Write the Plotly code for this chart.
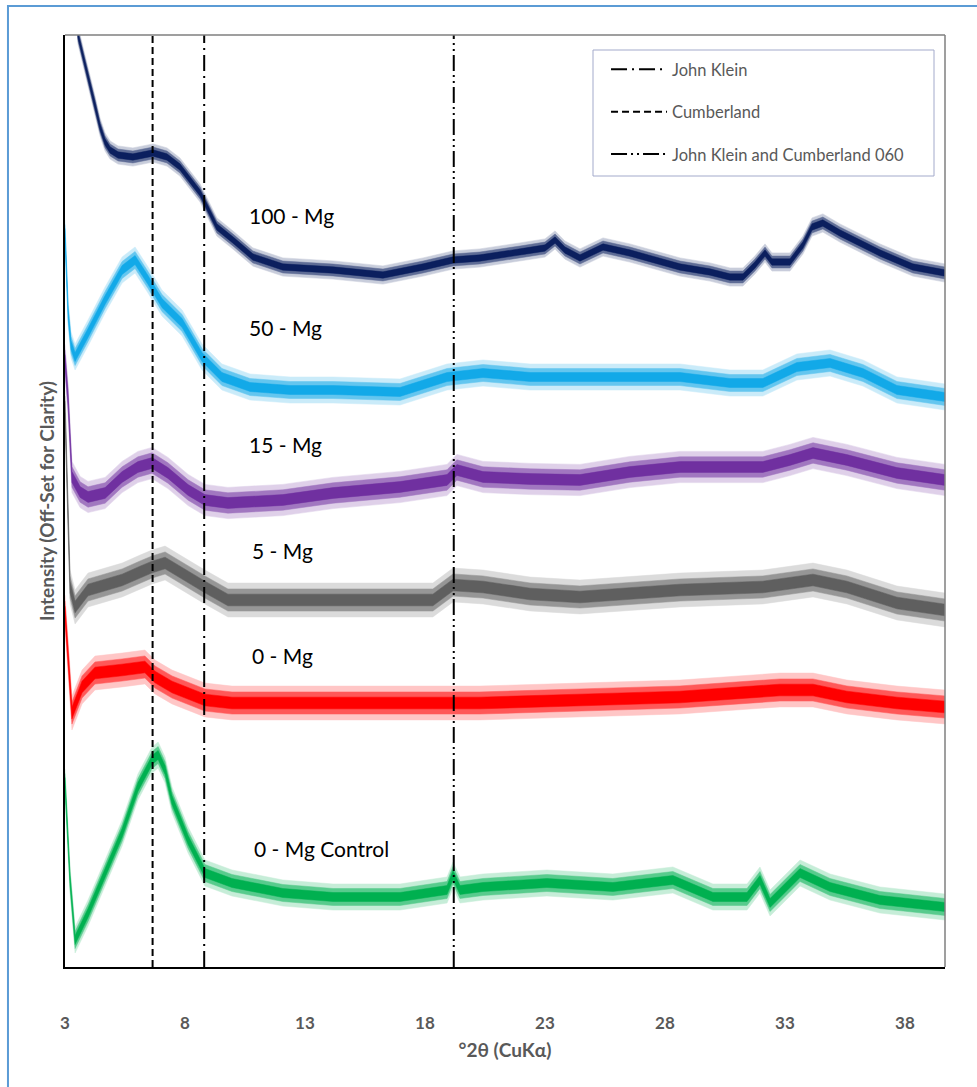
import plotly.graph_objects as go

# ---------------- data ----------------
# 2theta (deg) / offset intensity (arbitrary units) of each pattern's centre line
tt_100 = [3.0, 3.54, 3.79, 4.04, 4.25, 4.46, 4.67, 4.88, 5.21, 5.83, 6.67, 7.25, 7.79, 8.63, 9.33,
          10.0, 10.83, 12.08, 14.17, 16.25, 17.92, 19.17, 20.29, 21.96, 23.0, 23.42, 23.83, 24.46,
          25.42, 26.54, 28.63, 29.88, 30.71, 31.25, 31.75, 32.17, 32.46, 33.21, 33.75, 34.13,
          34.58, 35.29, 36.96, 38.33, 39.67]
int_100 = [1150, 932, 907, 884, 862, 840, 825, 817, 812, 810, 814, 810, 800, 774, 740,
           727, 710, 700, 697, 692, 700, 707, 709, 715, 719, 727, 717, 709,
           720, 714, 700, 695, 690, 690, 702, 714, 705, 705, 722, 740,
           744, 734, 714, 700, 694]

tt_50 = [3.0, 3.13, 3.25, 3.42, 3.96, 4.67, 5.38, 5.92, 6.46, 7.04, 7.88, 8.71, 9.54, 10.71,
         12.38, 14.17, 16.96, 18.92, 20.42, 22.38, 24.46, 28.63, 30.71, 32.08, 33.5, 34.88,
         36.25, 37.67, 39.67]
int_50 = [734, 654, 622, 610, 634, 667, 697, 707, 687, 664, 644, 610, 590, 580,
          577, 577, 575, 590, 594, 590, 590, 590, 584, 584, 600, 604,
          594, 577, 570]

tt_15 = [3.0, 3.13, 3.29, 3.63, 3.96, 4.67, 5.38, 6.04, 6.63, 7.29, 8.13, 8.83, 9.79, 12.08,
         14.17, 16.96, 18.92, 19.33, 20.42, 22.38, 24.46, 26.54, 28.63, 32.08, 33.21, 34.17,
         35.58, 37.67, 39.67]
int_15 = [607, 567, 490, 475, 470, 474, 490, 500, 504, 494, 477, 467, 464, 467,
          474, 480, 487, 497, 490, 488, 487, 495, 500, 500, 507, 514,
          507, 494, 487]

tt_5 = [3.0, 3.21, 3.42, 3.96, 4.67, 5.38, 6.13, 6.63, 7.17, 8.13, 8.83, 9.79, 12.08, 14.17,
        18.33, 19.17, 20.42, 22.38, 24.46, 28.63, 32.08, 34.17, 35.58, 37.67, 39.67]
int_5 = [560, 380, 360, 377, 382, 387, 395, 400, 404, 390, 380, 367, 367, 367,
         367, 382, 380, 373, 370, 377, 380, 387, 380, 364, 357]

tt_0 = [3.0, 3.29, 3.71, 4.25, 5.38, 6.33, 6.75, 7.46, 8.83, 9.96, 14.17, 18.33, 20.29, 24.46,
        28.63, 32.79, 34.17, 35.58, 37.67, 39.67]
int_0 = [355, 254, 280, 294, 297, 300, 290, 280, 267, 264, 264, 264, 264, 267,
         270, 277, 277, 270, 264, 260]

tt_ctl = [3.0, 3.21, 3.42, 3.96, 4.67, 5.38, 6.04, 6.63, 6.88, 7.17, 7.46, 8.13, 8.83, 9.96,
          12.08, 14.17, 16.96, 18.92, 19.17, 19.46, 20.42, 23.08, 25.83, 28.33, 30.0, 31.42,
          31.96, 32.38, 33.63, 34.88, 36.96, 39.67]
int_ctl = [185, 87, 27, 54, 94, 134, 180, 207, 212, 197, 167, 127, 94, 84,
           74, 70, 70, 77, 92, 77, 80, 84, 80, 87, 70, 70,
           87, 64, 94, 80, 67, 60]

# half-width of the noise band of each pattern (same units)
noise_hw = {"100 - Mg": 7, "50 - Mg": 10, "15 - Mg": 12, "5 - Mg": 13, "0 - Mg": 13, "0 - Mg Control": 10}

series_names = ["100 - Mg", "50 - Mg", "15 - Mg", "5 - Mg", "0 - Mg", "0 - Mg Control"]
series_x = [tt_100, tt_50, tt_15, tt_5, tt_0, tt_ctl]
series_y = [int_100, int_50, int_15, int_5, int_0, int_ctl]
series_colors = ["#0B1F5E", "#12A9E8", "#7030A0", "#5F5F5F", "#FF0000", "#00B050"]

# label anchor points (2theta, intensity)
label_x = [10.58, 10.58, 10.58, 10.7, 10.7, 10.79]
label_y = [752, 640, 523, 417, 312, 119]

# reference lines
ref_names = ["John Klein", "Cumberland", "John Klein and Cumberland 060"]
ref_pos = [8.8, 6.65, 19.2]
ref_dash = ["16px,5px,2px,5px", "7px,4px", "16px,4px,2px,4px,2px,4px"]

x_ticks = [3, 8, 13, 18, 23, 28, 33, 38]
X_MIN, X_MAX = 3, 39.67
Y_MIN, Y_MAX = 0, 932

# ---------------- figure ----------------
fig = go.Figure()

band_layers = [(1.3, 0.22), (0.85, 0.55), (0.45, 1.0)]
for name, xs, ys, col in zip(series_names, series_x, series_y, series_colors):
    hw = noise_hw[name]
    for frac, op in band_layers:
        up = [v + hw * frac for v in ys]
        lo = [v - hw * frac for v in ys]
        fig.add_trace(go.Scatter(
            x=xs + xs[::-1], y=up + lo[::-1], mode="lines", fill="toself",
            fillcolor=col, opacity=op, line=dict(color=col, width=0.5),
            showlegend=False, hoverinfo="skip"))

for i, (nm, xp, dsh) in enumerate(zip(ref_names, ref_pos, ref_dash)):
    fig.add_trace(go.Scatter(
        x=[xp, xp], y=[Y_MIN, Y_MAX], mode="lines", name=nm,
        line=dict(color="black", width=2, dash=dsh), legendgroup="g%d" % i))

for nm, lx, ly in zip(series_names, label_x, label_y):
    fig.add_annotation(x=lx, y=ly, text=nm, showarrow=False, xanchor="left", yanchor="middle",
                       font=dict(family="Lato", size=21, color="black"))

# plot-area top/right border in grey
fig.add_shape(type="line", xref="paper", yref="paper", x0=0, x1=1, y0=1, y1=1,
              line=dict(color="#7F7F7F", width=1.5))
fig.add_shape(type="line", xref="paper", yref="paper", x0=1, x1=1, y0=0, y1=1,
              line=dict(color="#7F7F7F", width=1.5))
# legend box
fig.add_shape(type="rect", xref="paper", yref="paper", x0=0.6, x1=0.9875, y0=0.8487, y1=0.9839,
              line=dict(color="#A3AACB", width=1), fillcolor="white", layer="above")
# outer chart frame
fig.add_shape(type="rect", xref="paper", yref="paper", x0=-0.0648, x1=1.06, y0=-0.15, y1=1.0311,
              line=dict(color="#5B9BD5", width=2), fillcolor="rgba(0,0,0,0)", layer="below")

fig.update_layout(
    width=977, height=1087,
    margin=dict(l=65, r=32, t=35, b=120),
    paper_bgcolor="white", plot_bgcolor="white",
    showlegend=True,
    legend=dict(x=0.6148, y=0.9818, xanchor="left", yanchor="top",
                borderwidth=0, bgcolor="rgba(0,0,0,0)",
                font=dict(family="Lato", size=16.5, color="#595959"),
                traceorder="grouped", tracegroupgap=18, itemwidth=56),
    xaxis=dict(range=[X_MIN, X_MAX], tickvals=x_ticks, showgrid=False, zeroline=False,
               showline=True, linecolor="black", linewidth=1.5,
               ticks="outside", ticklen=40, tickcolor="rgba(0,0,0,0)",
               tickfont=dict(family="Lato", size=17, color="#595959", weight="bold"),
               title=dict(text="°2θ (CuKα)", standoff=12,
                          font=dict(family="Lato", size=19, color="#595959", weight="bold"))),
    yaxis=dict(range=[Y_MIN, Y_MAX], showticklabels=False, ticks="", showgrid=False,
               zeroline=False, showline=True, linecolor="black", linewidth=1.5,
               title=dict(text="Intensity (Off-Set for Clarity)", standoff=4,
                          font=dict(family="Lato", size=19, color="#595959", weight="bold"))),
)

fig.write_html("out.html")
